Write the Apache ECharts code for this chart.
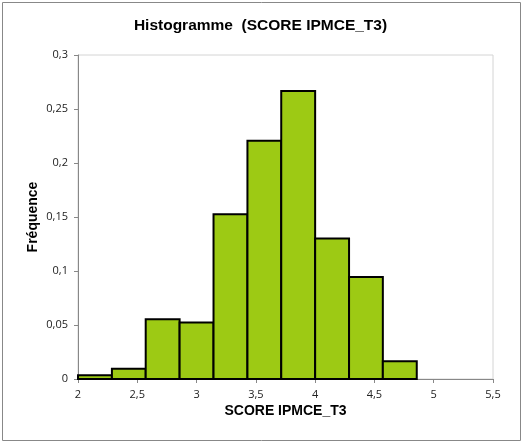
<!DOCTYPE html>
<html>
<head>
<meta charset="utf-8">
<script src="https://cdn.jsdelivr.net/npm/echarts@6/dist/echarts.min.js"></script>
<style>
html,body{margin:0;padding:0;background:#fff;}
#chart{width:521px;height:443px;}
</style>
</head>
<body>
<div id="chart"></div>
<script>
// Histogram bins (lower and upper edges) and relative frequencies
var binStart = [2, 2.286, 2.571, 2.857, 3.143, 3.429, 3.714, 4, 4.286, 4.571];
var binEnd   = [2.286, 2.571, 2.857, 3.143, 3.429, 3.714, 4, 4.286, 4.571, 4.857];
var freq     = [0.0034, 0.0096, 0.0553, 0.0523, 0.1526, 0.2206, 0.2666, 0.130, 0.0945, 0.0164];
var titleText = 'Histogramme  (SCORE IPMCE_T3)';
var xName = 'SCORE IPMCE_T3';
var yName = 'Fréquence';

var data = binStart.map(function (s, i) { return [s, binEnd[i], freq[i]]; });
function fmt(v) { return String(Math.round(v * 1000) / 1000).replace('.', ','); }

var chart = echarts.init(document.getElementById('chart'), null, {renderer: 'canvas'});
chart.setOption({
  animation: false,
  backgroundColor: '#fff',
  title: {
    text: titleText, left: 'center', top: 13,
    textStyle: {fontFamily: 'Liberation Sans', fontWeight: 'bold', fontSize: 15.5, color: '#000'}
  },
  grid: {left: 78, right: 28, top: 55, bottom: 64, show: true, borderColor: '#d4d4d4', borderWidth: 1},
  xAxis: {
    type: 'value', min: 2, max: 5.5, interval: 0.5,
    name: xName, nameLocation: 'middle', nameGap: 25, nameMoveOverlap: false,
    nameTextStyle: {fontFamily: 'Liberation Sans', fontWeight: 'bold', fontSize: 14, color: '#000'},
    axisLine: {show: true, lineStyle: {color: '#888', width: 1}},
    axisTick: {show: true, length: 4, lineStyle: {color: '#888'}},
    axisLabel: {formatter: fmt, fontFamily: 'Open Sans', fontSize: 11, color: '#222', margin: 10},
    splitLine: {show: false}
  },
  yAxis: {
    type: 'value', min: 0, max: 0.3, interval: 0.05,
    name: yName, nameLocation: 'middle', nameGap: 38, nameMoveOverlap: false,
    nameTextStyle: {fontFamily: 'Liberation Sans', fontWeight: 'bold', fontSize: 14, color: '#000'},
    axisLine: {show: true, lineStyle: {color: '#888', width: 1}},
    axisTick: {show: true, length: 4, lineStyle: {color: '#888'}},
    axisLabel: {formatter: fmt, fontFamily: 'Open Sans', fontSize: 11, color: '#222', margin: 10},
    splitLine: {show: false}
  },
  series: [{
    type: 'custom',
    data: data,
    encode: {x: [0, 1], y: 2},
    renderItem: function (params, api) {
      var p0 = api.coord([api.value(0), api.value(2)]);
      var p1 = api.coord([api.value(1), 0]);
      return {
        type: 'rect',
        shape: {x: p0[0], y: p0[1], width: p1[0] - p0[0], height: p1[1] - p0[1]},
        style: {fill: '#9dca14', stroke: '#000', lineWidth: 2}
      };
    }
  }],
  graphic: [{
    type: 'rect', silent: true, z: 100,
    shape: {x: 2.5, y: 2.5, width: 518, height: 438},
    style: {fill: 'none', stroke: '#888', lineWidth: 1}
  }]
});
</script>
</body>
</html>
